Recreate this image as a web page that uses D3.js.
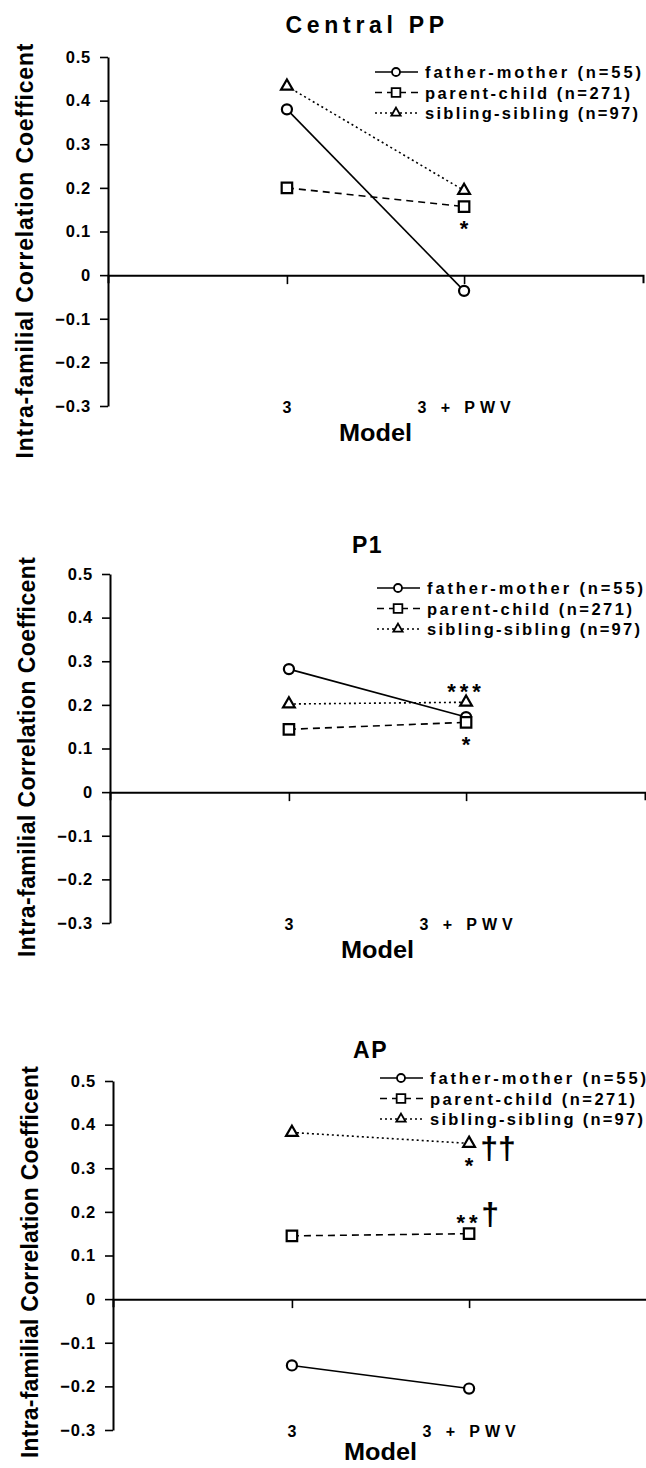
<!DOCTYPE html>
<html lang="en">
<head>
<meta charset="UTF-8">
<script src="https://d3js.org/d3.v7.min.js"></script>
<style>
    body { margin: 0; background: #fff; }
    text { font-family: "Liberation Sans", Arial, sans-serif; font-weight: bold; fill: #000; }
</style>
</head>
<body>
<svg id="chart"></svg>
<script>
    // data
    const models = ["3", "3 + PWV"];
    const seriesNames = ["father-mother (n=55)", "parent-child (n=271)", "sibling-sibling (n=97)"];
    const yTicks = [0.5, 0.4, 0.3, 0.2, 0.1, 0, -0.1, -0.2, -0.3];
    const panelTitles = ["Central PP", "P1", "AP"];

    const cppFatherMother = [0.380, -0.036];
    const cppParentChild = [0.200, 0.157];
    const cppSiblings = [0.433, 0.194];

    const p1FatherMother = [0.282, 0.172];
    const p1ParentChild = [0.144, 0.160];
    const p1Siblings = [0.202, 0.206];

    const apFatherMother = [-0.152, -0.205];
    const apParentChild = [0.145, 0.150];
    const apSiblings = [0.382, 0.357];

    // significance marks at "3 + PWV": [series index, label, where]
    const cppMarks = [[1, "*", "below"]];
    const p1Marks = [[2, "***", "above"], [1, "*", "below"]];
    const apMarks = [[2, "*", "below"], [2, "††", "right"], [1, "**", "above"], [1, "†", "aboveRight"]];

    const width = 646, height = 1468;
    const plotH = 349;

    const panels = [
        { title: panelTitles[0], values: [cppFatherMother, cppParentChild, cppSiblings], marks: cppMarks,
          top: 57, left: 108, right: 643, legendDy: 15, titleDy: -32, yTitleDy: 194, yTitleLen: 415, modelDy: 35 },
        { title: panelTitles[1], values: [p1FatherMother, p1ParentChild, p1Siblings], marks: p1Marks,
          top: 574, left: 110, right: 645, legendDy: 14, titleDy: -29, yTitleDy: 183, yTitleLen: 400, modelDy: 35 },
        { title: panelTitles[2], values: [apFatherMother, apParentChild, apSiblings], marks: apMarks,
          top: 1081, left: 113, right: 648, legendDy: -3, titleDy: -31, yTitleDy: 181, yTitleLen: 392, modelDy: 30 }
    ];

    const dashes = [null, "7,5", "2,3"];
    const symbols = [d3.symbolCircle, d3.symbolSquare, d3.symbolTriangle];
    const markSize = [80, 110, 60];
    const legendSize = [50, 75, 38];
    const legendLen = [216, 205, 213];

    const markOffset = {
        below: { dx: 0, dy: 17, size: 22, ls: 0 },
        above: { dx: 0, dy: -16, size: 22, ls: 4 },
        right: { dx: 29, dy: 7, size: 32, ls: 0 },
        aboveRight: { dx: 21, dy: -17, size: 32, ls: 0 }
    };

    const svg = d3.select("#chart")
        .attr("width", width)
        .attr("height", height)
        .style("background", "#fff");

    const fmt = d => d === 0 ? "0" : d3.format(".1f")(d);

    panels.forEach(p => {
        const g = svg.append("g");

        const y = d3.scaleLinear().domain([-0.3, 0.5]).range([p.top + plotH, p.top]);
        const x = d3.scalePoint().domain(models).range([p.left, p.right]).padding(1.01);

        // y axis
        const ya = g.append("g")
            .attr("transform", `translate(${p.left},0)`)
            .call(d3.axisLeft(y).tickValues(yTicks).tickSize(8).tickSizeOuter(0).tickPadding(9).tickFormat(fmt));
        ya.select(".domain").attr("stroke-width", 2);
        ya.selectAll(".tick line").attr("stroke-width", 1.6);
        ya.selectAll(".tick text")
            .attr("font-size", 16.5)
            .attr("letter-spacing", 0.8)
            .attr("font-family", "Liberation Sans, Arial, sans-serif")
            .attr("font-weight", "bold");

        // x axis at zero
        const xa = g.append("g")
            .attr("transform", `translate(0,${y(0)})`)
            .call(d3.axisBottom(x).tickSize(9).tickSizeOuter(8).tickFormat(""));
        xa.select(".domain").attr("stroke-width", 2);
        xa.selectAll(".tick line").attr("stroke-width", 1.6);

        // category labels along the bottom
        g.selectAll(".cat")
            .data(models)
            .enter().append("text")
            .attr("class", "cat")
            .attr("x", d => x(d))
            .attr("y", y(-0.3) + 7)
            .attr("text-anchor", "middle")
            .attr("font-size", 16)
            .attr("textLength", d => d.length > 1 ? 93 : null)
            .attr("lengthAdjust", "spacing")
            .text(d => d);

        g.append("text")
            .attr("x", (p.left + p.right) / 2)
            .attr("y", y(-0.3) + p.modelDy)
            .attr("text-anchor", "middle")
            .attr("font-size", 24)
            .attr("textLength", 73)
            .attr("lengthAdjust", "spacingAndGlyphs")
            .text("Model");

        g.append("text")
            .attr("transform", `translate(${p.left - 75},${p.top + p.yTitleDy}) rotate(-90)`)
            .attr("text-anchor", "middle")
            .attr("font-size", 23)
            .attr("textLength", p.yTitleLen)
            .attr("lengthAdjust", "spacing")
            .text("Intra-familial  Correlation  Coefficent");

        g.append("text")
            .attr("x", (p.left + p.right) / 2 - 10)
            .attr("y", p.top + p.titleDy + 8)
            .attr("text-anchor", "middle")
            .attr("font-size", 23)
            .attr("letter-spacing", 1.5)
            .attr("textLength", p.title.length > 2 ? 160 : null)
            .attr("lengthAdjust", "spacing")
            .text(p.title);

        // series lines
        const line = d3.line().x((d, i) => x(models[i])).y(d => y(d));
        p.values.forEach((vals, s) => {
            g.append("path")
                .attr("d", line(vals))
                .attr("fill", "none")
                .attr("stroke", "#000")
                .attr("stroke-width", 1.6)
                .attr("stroke-dasharray", dashes[s]);
        });
        p.values.forEach((vals, s) => {
            g.selectAll(null)
                .data(vals)
                .enter().append("path")
                .attr("transform", (d, i) => `translate(${x(models[i])},${y(d)})`)
                .attr("d", d3.symbol().type(symbols[s]).size(markSize[s]))
                .attr("fill", "#fff")
                .attr("stroke", "#000")
                .attr("stroke-width", 2.2);
        });

        // significance marks
        p.marks.forEach(([s, label, where]) => {
            const o = markOffset[where];
            const cx = x(models[1]) + o.dx;
            const cy = y(p.values[s][1]) + o.dy;
            const isDagger = label.includes("†");
            g.append("text")
                .attr("x", cx)
                .attr("y", cy + (isDagger ? 0.26 : 0.56) * o.size)
                .attr("text-anchor", "middle")
                .attr("font-size", o.size)
                .attr("font-weight", isDagger ? "normal" : "bold")
                .attr("letter-spacing", o.ls)
                .text(label);
        });

        // legend
        const lg = g.append("g");
        seriesNames.forEach((name, s) => {
            const ry = p.top + p.legendDy + s * 20.5;
            lg.append("line")
                .attr("x1", p.left + 267).attr("x2", p.left + 310)
                .attr("y1", ry).attr("y2", ry)
                .attr("stroke", "#000")
                .attr("stroke-width", 1.6)
                .attr("stroke-dasharray", dashes[s]);
            lg.append("path")
                .attr("transform", `translate(${p.left + 288},${ry})`)
                .attr("d", d3.symbol().type(symbols[s]).size(legendSize[s]))
                .attr("fill", "#fff")
                .attr("stroke", "#000")
                .attr("stroke-width", 1.8);
            lg.append("text")
                .attr("x", p.left + 317)
                .attr("y", ry + 6)
                .attr("font-size", 16.5)
                .attr("textLength", legendLen[s])
                .attr("lengthAdjust", "spacing")
                .text(name);
        });
    });
</script>
</body>
</html>
